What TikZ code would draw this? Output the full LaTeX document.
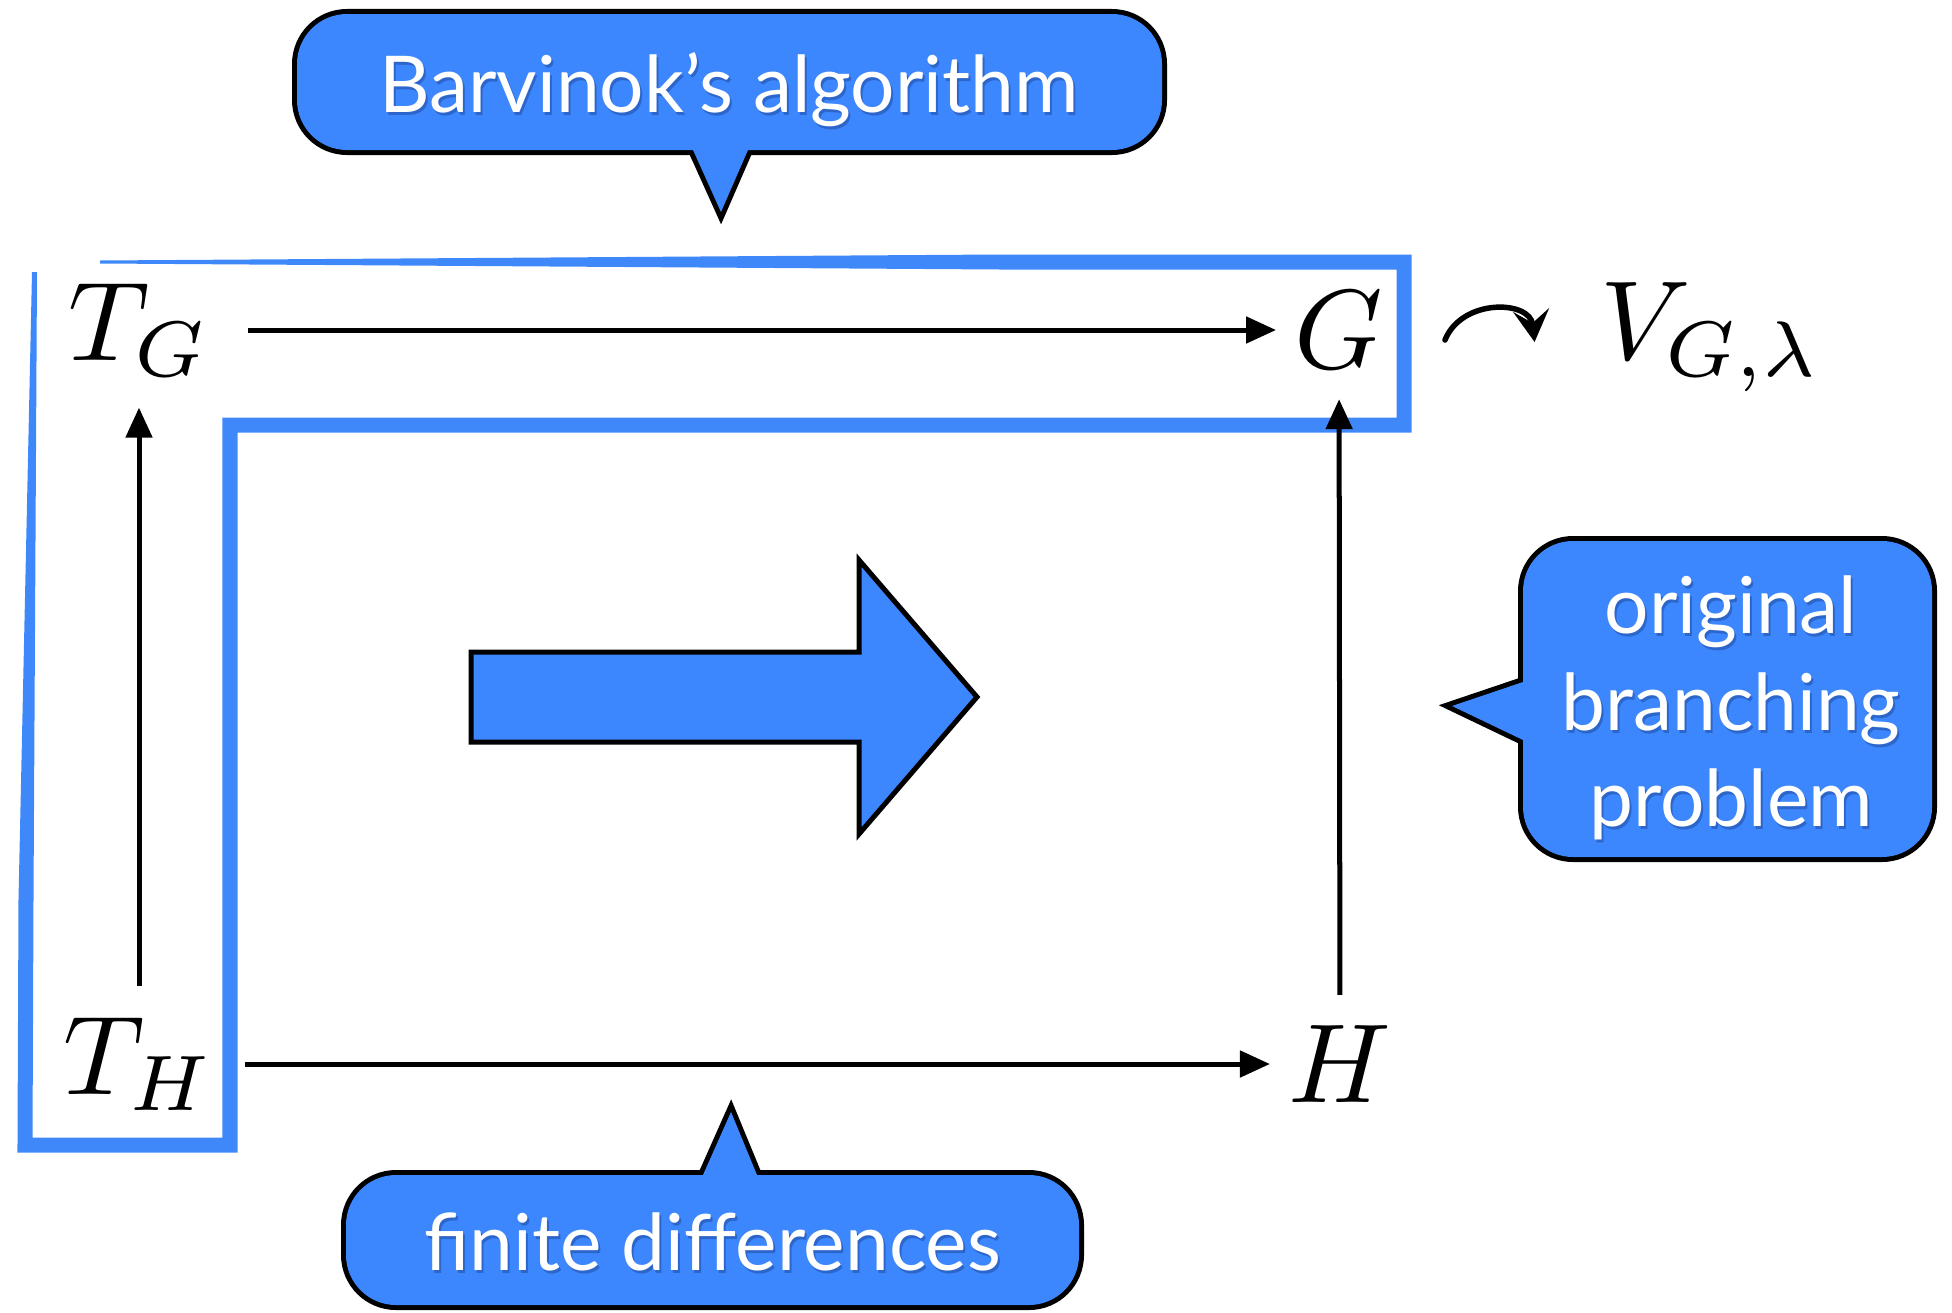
\documentclass[tikz,border=0pt]{standalone}
\usepackage{graphicx}
\usepackage{fontspec}
\newfontfamily\bubblefont{Lato}
\usetikzlibrary{arrows.meta}
\definecolor{bubble}{RGB}{61,135,254}
\definecolor{bubbleshade}{RGB}{16,42,110}
\definecolor{bandblue}{RGB}{62,136,250}
\newcommand{\bigmath}[1]{\scalebox{3.2}{$#1$}}

\begin{document}
\begin{tikzpicture}[
    x=0.01cm, y=-0.01cm,
    maths/.style={inner sep=3mm},
    talk/.style={font=\bubblefont\fontsize{22.3}{27.5}\selectfont, text=white, align=center, inner sep=0pt},
    talkshade/.style={talk, text=bubbleshade, opacity=0.35},
    rim/.style={draw, line width=1mm, rounded corners=5mm},
    skin/.style={fill=bubble, rounded corners=5mm},
    tail/.style={draw, line width=1mm, sharp corners, line join=miter},
    tailskin/.style={fill=bubble, sharp corners},
    band/.style={draw=bandblue, line width=1.5mm, line join=miter},
    flow/.style={-{Triangle[length=3mm,width=2.6mm]}, line width=0.5mm},
    act/.style={-{Stealth[length=3.2mm,width=3.6mm,inset=1.3mm]}, line width=0.55mm, line cap=round},
    bigarrow/.style={fill=bubble, draw, line width=0.5mm, line join=miter}
]
    \useasboundingbox (0,0) rectangle (1952,1312);

    % open frame round T_G, T_H and G
    \draw[band] (1000,262) -- (1404,262) -- (1404,425) -- (230,425) -- (230,1145) -- (25,1145) -- (26,900);
    \fill[bandblue] (1000,254.5) -- (1000,269.5) -- (100,263.5) -- (100,260.5) -- cycle;
    \fill[bandblue] (18.5,900) -- (33.5,900) -- (37,272) -- (32,272) -- cycle;

    \node[maths, inner xsep=3.8mm] (t-g) at (139,330) {\bigmath{T_G}};
    \node[maths, inner xsep=1.8mm] (g) at (1339,330) {\bigmath{G}};
    \node[maths] (t-h) at (139,1064) {\bigmath{T_H}};
    \node[maths, inner xsep=1.8mm] (h) at (1340,1064) {\bigmath{H}};
    \node[maths] (v-g) at (1711,337) {\bigmath{V_{G,\lambda}}};

    \draw[flow] (t-g) -- (g);
    \draw[flow] (t-h) -- (h);
    \draw[flow] (t-h) -- (t-g);
    \draw[flow] (h) -- (g);
    \draw[act] ([shift={(43,10)}]g.east) .. controls (1462,298) and (1530,300) .. ([shift={(-35,5)}]v-g.west);

    % big arrow in the middle
    \draw[bigarrow] (471,652) -- (859,652) -- (859,560) -- (977,697) -- (859,834) -- (859,742) -- (471,742) -- cycle;

    % bubble: Barvinok
    \draw[rim] (297,14) rectangle (1162,150);
    \draw[tail] (693,150) -- (721,212) -- (748,150);
    \fill[skin] (297,14) rectangle (1162,150);
    \fill[tailskin] (693,140) -- (693,150) -- (721,212) -- (748,150) -- (748,140) -- cycle;
    \node[talkshade, anchor=base] (barvinok-shade) at (731,115) {Barvinok’s algorithm};
    \node[talk, anchor=base] (barvinok) at (729,112) {Barvinok’s algorithm};

    % bubble: finite differences
    \draw[rim] (346,1175) rectangle (1079,1305);
    \draw[tail] (703,1175) -- (731,1112) -- (757,1175);
    \fill[skin] (346,1175) rectangle (1079,1305);
    \fill[tailskin] (703,1185) -- (703,1175) -- (731,1112) -- (757,1175) -- (757,1185) -- cycle;
    \node[talkshade, anchor=base] (finite-shade) at (715,1273) {finite differences};
    \node[talk, anchor=base] (finite) at (713,1270) {finite differences};

    % bubble: branching problem
    \draw[rim] (1523,541) rectangle (1932,857);
    \draw[tail] (1523,682) -- (1452,706) -- (1523,740);
    \fill[skin] (1523,541) rectangle (1932,857);
    \fill[tailskin] (1533,682) -- (1523,682) -- (1452,706) -- (1523,740) -- (1533,740) -- cycle;
    \node[talkshade] (branching-shade) at (1733,711) {original\\branching\\problem};
    \node[talk] (branching) at (1731,708) {original\\branching\\problem};
\end{tikzpicture}
\end{document}
